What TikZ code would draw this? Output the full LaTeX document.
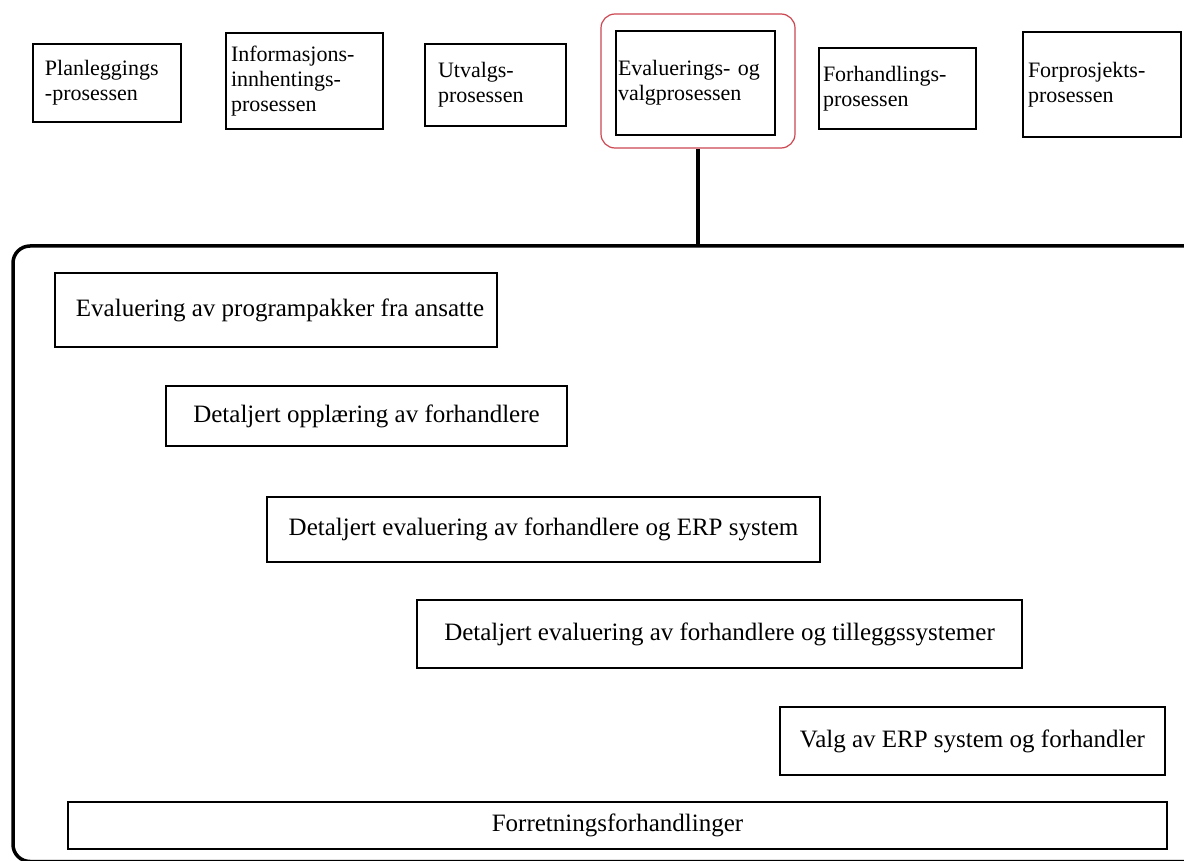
\documentclass[tikz,border=0pt]{standalone}
\usepackage{fontspec}
\setmainfont{Liberation Serif}
\definecolor{framered}{RGB}{205,70,80}
\tikzset{
  phase/.style={draw=black, line width=1.8pt, inner ysep=0pt, align=left,
    font=\fontsize{22}{25}\selectfont},
  task/.style={draw=black, line width=1.8pt, inner sep=0pt,
    font=\fontsize{25}{30}\selectfont},
  focus/.style={draw=framered, line width=1.2pt, rounded corners=14pt, inner sep=0pt},
  stage/.style={draw=black, line width=3.5pt, rounded corners=17pt, inner sep=0pt},
  link/.style={draw=black, line width=3.5pt}
}
\begin{document}
\begin{tikzpicture}[x=1pt,y=-1pt]
\useasboundingbox (0,0) rectangle (1184,861);
\fill[white] (0,0) rectangle (1184,861);
\clip (0,0) rectangle (1184,861);

% process phases along the top
\node[phase, minimum height=78pt, inner xsep=12pt, text width=124pt] (plan) at (107,83)
  {Planleggings\\-prosessen};
\node[phase, minimum height=96pt, inner xsep=5pt, text width=147pt] (info) at (304.5,81)
  {Informasjons-\\innhentings-\\prosessen};
\node[phase, minimum height=82pt, inner xsep=13pt, text width=115pt] (utv) at (495.5,85)
  {Utvalgs-\\prosessen};
\node[focus, minimum width=194pt, minimum height=134pt] (sel) at (698,81) {};
\node[phase, minimum height=104pt, inner xsep=2pt, text width=155pt] (eval) at (695.5,83)
  {Evaluerings- og\\valgprosessen};
\node[phase, minimum height=81pt, inner xsep=4pt, text width=149pt] (forh) at (897.5,88.5)
  {Forhandlings-\\prosessen};
\node[phase, minimum height=105pt, inner xsep=5pt, text width=148pt] (forp) at (1102,84.5)
  {Forprosjekts-\\prosessen};

% expanded view of the selected phase
\node[stage, minimum width=1189pt, minimum height=615.5pt] (detail) at (607.5,553.75) {};
\draw[link] (sel.south) -- (sel.south |- detail.north);

\node[task, minimum width=442pt, minimum height=74pt] (t1) at (276,310)
  {\hspace{8pt}Evaluering av programpakker fra ansatte};
\node[task, minimum width=401pt, minimum height=60pt] (t2) at (366.5,416)
  {Detaljert opplæring av forhandlere};
\node[task, minimum width=553pt, minimum height=65pt] (t3) at (543.5,529.5)
  {Detaljert evaluering av forhandlere og ERP system};
\node[task, minimum width=605pt, minimum height=68pt] (t4) at (719.5,634)
  {Detaljert evaluering av forhandlere og tilleggssystemer};
\node[task, minimum width=385pt, minimum height=68pt] (t5) at (972.5,741)
  {Valg av ERP system og forhandler};
\node[task, minimum width=1099pt, minimum height=47pt] (t6) at (617.5,825.5)
  {Forretningsforhandlinger\hspace{54pt}};
\end{tikzpicture}
\end{document}
